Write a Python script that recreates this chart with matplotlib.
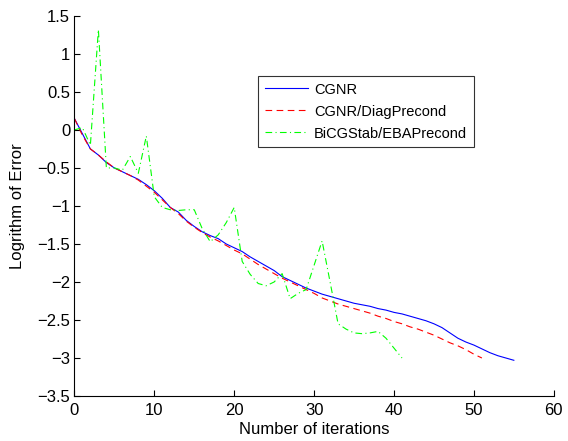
import numpy as np
import matplotlib
matplotlib.use("Agg")
import matplotlib.pyplot as plt

plt.rcParams['font.family'] = ['Liberation Sans', 'DejaVu Sans']

# Datos
cgnr = [0.15, -0.05, -0.25, -0.33, -0.43, -0.50, -0.55, -0.60, -0.65, -0.72,
        -0.80, -0.90, -1.02, -1.08, -1.19, -1.27, -1.34, -1.39, -1.43, -1.50,
        -1.55, -1.60, -1.67, -1.73, -1.79, -1.85, -1.93, -1.98, -2.03, -2.08,
        -2.12, -2.16, -2.19, -2.22, -2.25, -2.28, -2.30, -2.32, -2.35, -2.37,
        -2.40, -2.42, -2.45, -2.48, -2.51, -2.55, -2.60, -2.67, -2.74, -2.79,
        -2.83, -2.88, -2.93, -2.97, -3.00, -3.03]
cgnr_diag = [0.15, -0.07, -0.25, -0.33, -0.42, -0.50, -0.55, -0.60, -0.66, -0.74,
             -0.82, -0.92, -1.02, -1.10, -1.20, -1.28, -1.35, -1.41, -1.46, -1.52,
             -1.58, -1.63, -1.70, -1.77, -1.83, -1.89, -1.95, -2.00, -2.05, -2.10,
             -2.15, -2.21, -2.25, -2.29, -2.32, -2.35, -2.38, -2.41, -2.45, -2.48,
             -2.52, -2.55, -2.59, -2.62, -2.66, -2.70, -2.75, -2.80, -2.84, -2.89,
             -2.95, -3.00]
bicgstab = [0.0, 0.03, -0.20, 1.32, -0.50, -0.50, -0.53, -0.35, -0.57, -0.08,
            -0.88, -1.02, -1.05, -1.06, -1.05, -1.05, -1.30, -1.47, -1.38, -1.22,
            -1.02, -1.73, -1.90, -2.02, -2.05, -2.00, -1.89, -2.22, -2.15, -2.10,
            -1.78, -1.46, -2.00, -2.55, -2.62, -2.67, -2.68, -2.67, -2.65, -2.74,
            -2.87, -3.00]

fig = plt.figure(figsize=(5.68, 4.41), dpi=100)
ax = fig.add_axes([0.131, 0.102, 0.844, 0.862])

ax.plot(np.arange(len(cgnr)), cgnr, color='blue', linestyle='-', linewidth=0.8, label="CGNR")
ax.plot(np.arange(len(cgnr_diag)), cgnr_diag, color='red', linestyle='--', linewidth=0.8,
        dashes=(6, 4), label="CGNR/DiagPrecond")
ax.plot(np.arange(len(bicgstab)), bicgstab, color='#00ff00', linestyle='-.', linewidth=0.8,
        dashes=(6, 3, 1, 3), label="BiCGStab/EBAPrecond")

ax.set_xlim(0, 60)
ax.set_ylim(-3.5, 1.5)
ax.set_xticks(np.arange(0, 61, 10))
ax.set_yticks(np.arange(-3.5, 1.51, 0.5))
ax.set_yticklabels(['\u22123.5', '\u22123', '\u22122.5', '\u22122', '\u22121.5', '\u22121',
                    '\u22120.5', '0', '0.5', '1', '1.5'])
ax.spines['top'].set_visible(False)
ax.spines['right'].set_visible(False)
ax.tick_params(direction='in', length=4, labelsize=12)
ax.tick_params(axis='x', pad=5)
ax.tick_params(axis='y', pad=3)
ax.set_xlabel("Number of iterations", fontsize=12, labelpad=3)
ax.set_ylabel("Logrithm of Error", fontsize=12, labelpad=9)

leg = ax.legend(loc='upper left', bbox_to_anchor=(0.383, 0.842), borderaxespad=0,
                fontsize=10.5, frameon=True, fancybox=False, edgecolor='black',
                handlelength=3.0, borderpad=0.45, labelspacing=0.55, handletextpad=0.4)
leg.get_frame().set_linewidth(0.8)

fig.savefig("out.png", dpi=100)
